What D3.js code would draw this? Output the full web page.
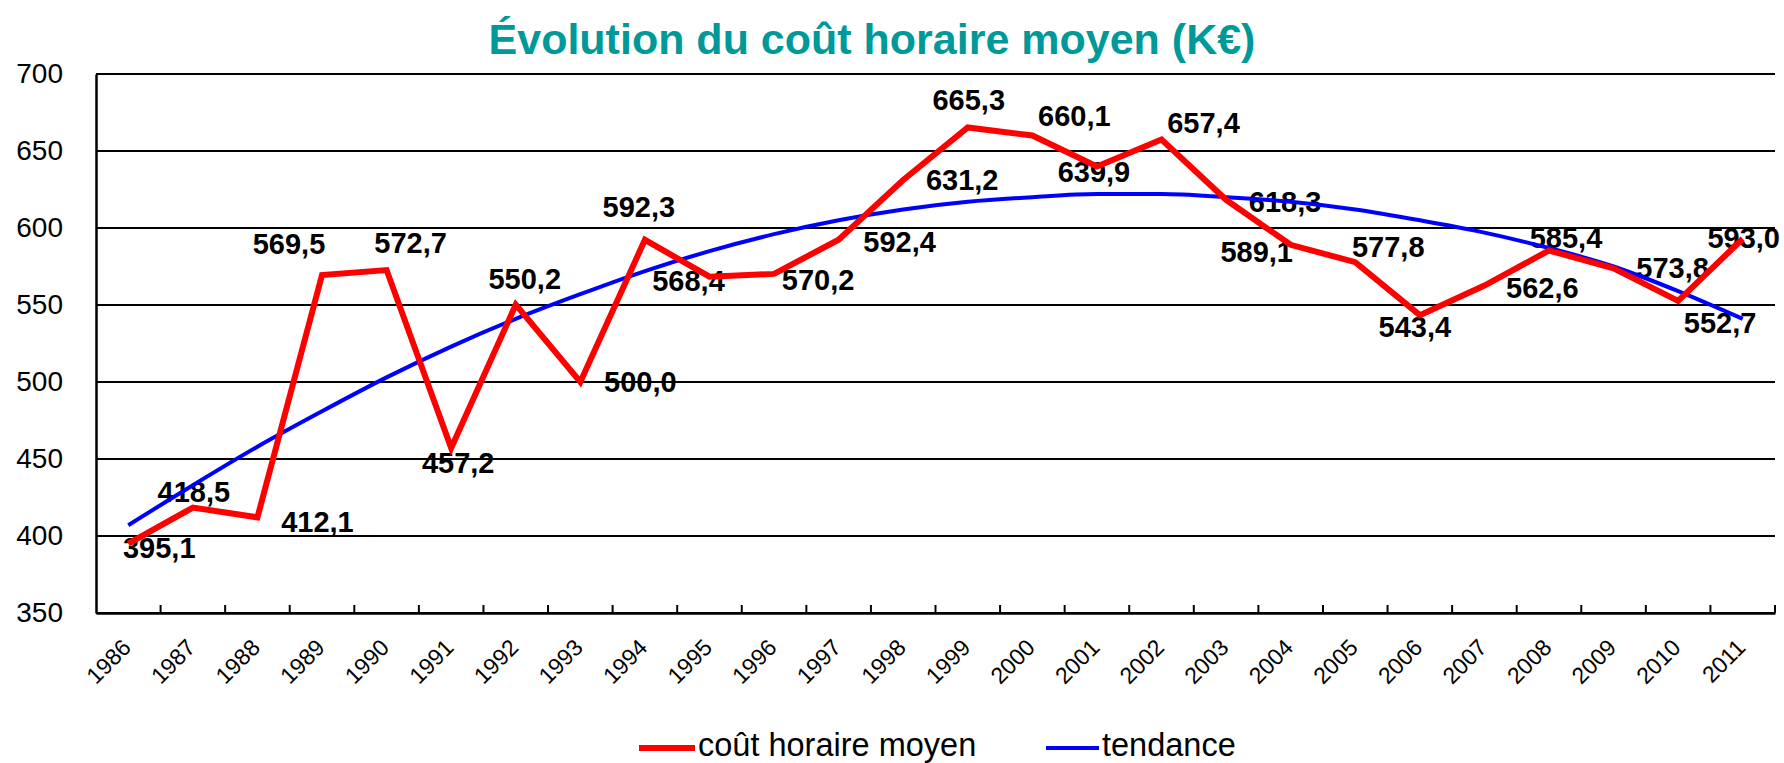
<!DOCTYPE html>
<html>
<head>
<meta charset="utf-8">
<script src="https://cdn.jsdelivr.net/npm/d3@7"></script>
<style>
  body { margin: 0; background: #fff; }
  svg { display: block; }
  text { font-family: "Liberation Sans", Arial, sans-serif; }
</style>
</head>
<body>
<svg id="chart" width="1784" height="763"></svg>
<script>
const categories = ["1986","1987","1988","1989","1990","1991","1992","1993","1994","1995","1996","1997","1998","1999","2000","2001","2002","2003","2004","2005","2006","2007","2008","2009","2010","2011"];
const costValues = [395.1,418.5,412.1,569.5,572.7,457.2,550.2,500.0,592.3,568.4,570.2,592.4,631.2,665.3,660.1,639.9,657.4,618.3,589.1,577.8,543.4,562.6,585.4,573.8,552.7,593.0];
const trendValues = [407,433,458,481,503,523,541,557,572,585,596,605,612,617,620,622,622,620,617,612,605,597,587,575,559,541];
const yTicks = [350,400,450,500,550,600,650,700];
const titleText = "Évolution du coût horaire moyen (K€)";
const seriesNames = ["coût horaire moyen", "tendance"];

// label placement offsets (layout only), relative to each point
const labelOffsets = [
  [31,4],[1,-16],[60,4],[-33,-31],[24,-27],[7,15],[9,-26],[60,0],[-6,-33],[-21,4],
  [44,6],[61,2],[59,0],[1,-28],[42,-20],[-3,5],[42,-17],[59,2],[-34,7],[33,-16],
  [-5,11],[58,2],[17,-13],[59,-1],[42,22],[1,-1]
];

const svg = d3.select("#chart");
const L = 96, R = 1775, T = 74, B = 613;

const x = d3.scaleBand().domain(categories).range([L, R]).padding(0);
const px = c => x(c) + x.bandwidth() / 2;
const y = d3.scaleLinear().domain([350, 700]).range([B, T]);

// title
svg.append("text")
  .attr("x", 872).attr("y", 54)
  .attr("text-anchor", "middle")
  .attr("font-size", 43).attr("font-weight", "bold")
  .attr("fill", "#009999")
  .text(titleText);

// gridlines
svg.append("g").selectAll("line").data(yTicks).join("line")
  .attr("x1", L).attr("x2", R)
  .attr("y1", d => y(d)).attr("y2", d => y(d))
  .attr("stroke", "#000").attr("stroke-width", 2);

// y axis
const yAxis = d3.axisLeft(y).tickValues(yTicks).tickSize(0).tickPadding(33).tickFormat(d3.format("d"));
const gy = svg.append("g").attr("transform", `translate(${L},0)`).call(yAxis);
gy.select(".domain").attr("stroke", "#000").attr("stroke-width", 2.5);
gy.selectAll("text").attr("font-size", 28).attr("font-family", "Liberation Sans, Arial, sans-serif").attr("fill", "#000");

// x axis
const xAxis = d3.axisBottom(x).tickSize(0).tickPadding(0);
const gx = svg.append("g").attr("transform", `translate(0,${B})`).call(xAxis);
gx.select(".domain").attr("stroke", "#000").attr("stroke-width", 2.5);
gx.selectAll("text")
  .attr("x", 0).attr("y", 0).attr("dy", 0)
  .attr("text-anchor", "end")
  .attr("transform", "translate(4,36) rotate(-45)")
  .attr("font-size", 23).attr("font-family", "Liberation Sans, Arial, sans-serif").attr("fill", "#000");

// boundary tick marks (inward)
const bounds = categories.slice(1).map(c => x(c)).concat([x.range()[1]]);
svg.append("g").selectAll("line").data(bounds).join("line")
  .attr("x1", d => d).attr("x2", d => d)
  .attr("y1", B).attr("y2", B - 8)
  .attr("stroke", "#000").attr("stroke-width", 2);

// data labels
const fmt = v => v.toFixed(1).replace(".", ",");
svg.append("g").selectAll("text").data(categories).join("text")
  .attr("x", (c, i) => px(c) + labelOffsets[i][0])
  .attr("y", (c, i) => y(costValues[i]) + labelOffsets[i][1] + 10.4)
  .attr("text-anchor", "middle")
  .attr("font-size", 29).attr("font-weight", "bold").attr("fill", "#000")
  .text((c, i) => fmt(costValues[i]));

// trend line
svg.append("path")
  .datum(categories)
  .attr("fill", "none").attr("stroke", "#0000ff").attr("stroke-width", 4)
  .attr("d", d3.line().x(c => px(c)).y((c, i) => y(trendValues[i])).curve(d3.curveMonotoneX));

// cost line
svg.append("path")
  .datum(categories)
  .attr("fill", "none").attr("stroke", "#ff0000").attr("stroke-width", 6)
  .attr("stroke-linejoin", "miter").attr("stroke-miterlimit", 3)
  .attr("d", d3.line().x(c => px(c)).y((c, i) => y(costValues[i])));

// legend
const legend = [
  {name: seriesNames[0], color: "#ff0000", w: 6, x0: 639, x1: 695},
  {name: seriesNames[1], color: "#0000ff", w: 4, x0: 1046, x1: 1099}
];
const lg = svg.append("g");
legend.forEach(d => {
  lg.append("line").attr("x1", d.x0).attr("x2", d.x1).attr("y1", 748).attr("y2", 748)
    .attr("stroke", d.color).attr("stroke-width", d.w);
  lg.append("text").attr("x", d.x1 + 3).attr("y", 756)
    .attr("font-size", 32.5).attr("fill", "#000").text(d.name);
});
</script>
</body>
</html>
